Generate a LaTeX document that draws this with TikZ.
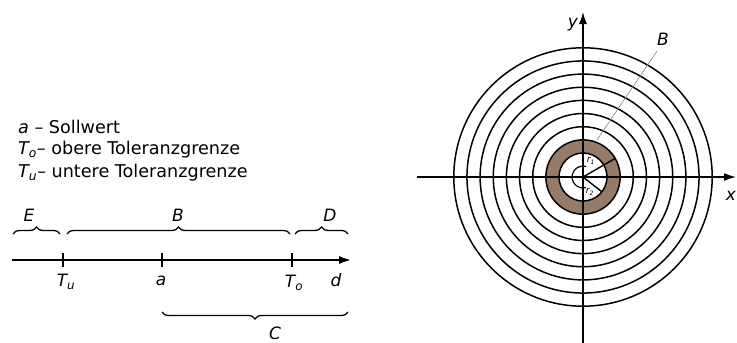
\documentclass[tikz,border=0pt]{standalone}
\usepackage{fontspec}
\setmainfont{DejaVu Sans}
\usetikzlibrary{decorations.pathreplacing,arrows.meta}
\begin{document}
\begin{tikzpicture}[x=1pt,y=-1pt,
  txt/.style={font=\fontsize{17.6}{19}\selectfont, inner sep=0pt, anchor=west},
  lbl/.style={font=\fontsize{17}{19}\selectfont\itshape, inner sep=0pt},
  axisline/.style={line width=2.4pt, -{Latex[length=13pt,width=8pt]}},
  brc/.style={line width=1.3pt, decorate, decoration={brace, amplitude=7pt}},
  brcm/.style={line width=1.3pt, decorate, decoration={brace, amplitude=7pt, mirror}},
  tick/.style={line width=1.5pt},
  ring/.style={line width=1.5pt},
  caxis/.style={line width=1.5pt, -{Latex[length=12pt,width=8pt]}},
  ringfill/.style={fill={rgb,255:red,150;green,124;blue,102}},
  rlab/.style={font=\fontsize{9}{10}\selectfont\itshape, inner sep=0pt}
]
\useasboundingbox (0,0) rectangle (737,343);

% ---------- left: legend ----------
\node[txt] (la) at (18,127) {\itshape a\upshape\ – Sollwert};
\node[txt] (lo) at (18,150) {\itshape T\textsubscript{o}\upshape– obere Toleranzgrenze};
\node[txt] (lu) at (18,173) {\itshape T\textsubscript{u}\upshape– untere Toleranzgrenze};

% ---------- number line ----------
\coordinate (NL) at (12,260);
\coordinate (NR) at (352,260);
\draw[axisline] (NL) -- (NR);
\coordinate (Tu) at (63,260);
\coordinate (A) at (162,260);
\coordinate (To) at (292,260);
\foreach \p in {Tu,A,To} \draw[tick] ([yshift=-7pt]\p) -- ([yshift=7pt]\p);
\node[lbl] (tTu) at (66,282) {T\textsubscript{u}};
\node[lbl] (tA)  at (161,281) {a};
\node[lbl] (tTo) at (294,283) {T\textsubscript{o}};
\node[lbl] (tD)  at (336,280) {d};

% braces above
\coordinate (E1) at (13,234); \coordinate (E2) at (60,234);
\coordinate (B1) at (67,234); \coordinate (B2) at (290,234);
\coordinate (D1) at (295,234); \coordinate (D2) at (348,234);
\draw[brc] (E1) -- (E2);
\draw[brc] (B1) -- (B2);
\draw[brc] (D1) -- (D2);
\node[lbl] (nE) at (29,215) {E};
\node[lbl] (nB) at (178,215) {B};
\node[lbl] (nD) at (330,215) {D};

% brace below
\coordinate (C1) at (162,312); \coordinate (C2) at (348,312);
\draw[brcm] (C1) -- (C2);
\node[lbl] (nC) at (275,333) {C};

% ---------- right: circles ----------
\coordinate (O) at (583,177);
\fill[ringfill, even odd rule] (O) circle[radius=37.2pt] (O) circle[radius=24pt];
\foreach \k in {0,...,8} {
  \pgfmathsetmacro{\rr}{24+13.15*\k}
  \draw[ring] (O) circle[radius=\rr pt];
}
\coordinate (XL) at (417,177);
\coordinate (XR) at (736,177);
\coordinate (YB) at (583,343);
\coordinate (YT) at (583,12);
\draw[caxis] (XL) -- (XR);
\draw[caxis] (YB) -- (YT);
\node[lbl] (nx) at (731,196) {x};
\node[lbl] (ny) at (573,25) {y};

% small arc
\draw[line width=1.2pt] ([shift={(75:11pt)}]O) arc[start angle=75, end angle=285, radius=11pt];

% radii
\draw[line width=1.4pt] (O) -- ([shift={(30:37pt)}]O) coordinate (R1);
\draw[line width=1.4pt] (O) -- ([shift={(-38:24pt)}]O) coordinate (R2);
\node[rlab] (nr1) at (591,161) {r\textsubscript{1}};
\node[rlab] (nr2) at (590,192) {r\textsubscript{2}};

% B pointer
\coordinate (Bp) at (597,140);
\coordinate (Bq) at (657,51);
\node[lbl] (nB2) at (663,39) {B};
\draw[line width=0.6pt, gray] (Bp) -- (Bq);
\end{tikzpicture}
\end{document}
